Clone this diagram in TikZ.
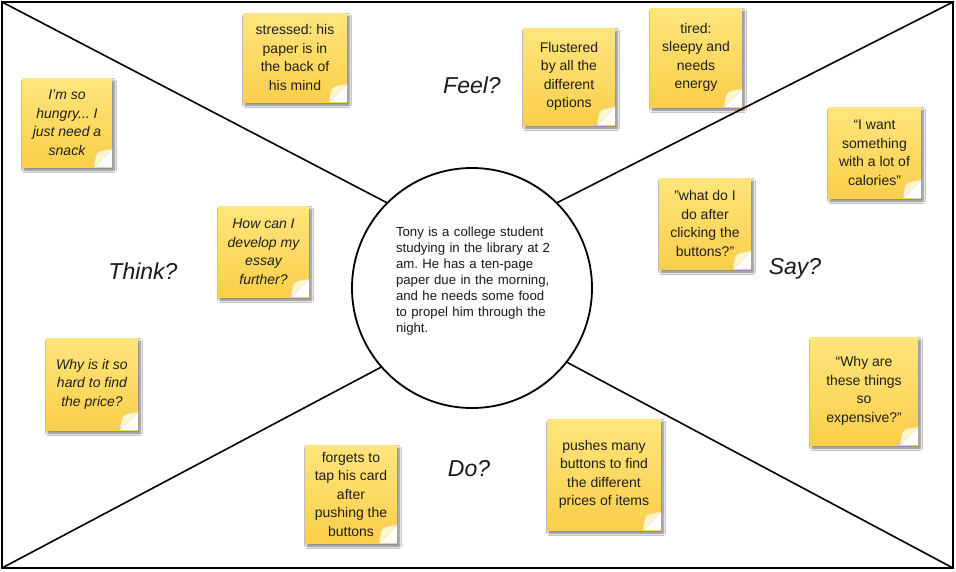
\documentclass[tikz,border=0pt]{standalone}
\usepackage{fontspec}
\setmainfont{Liberation Sans}
\usetikzlibrary{shadows,shadows.blur,calc}
\definecolor{notetop}{RGB}{255,229,125}
\definecolor{notebot}{RGB}{250,207,74}
\definecolor{curlc}{RGB}{255,245,200}
\frenchspacing
\begin{document}
\begin{tikzpicture}[x=1pt,y=-1pt,
  frame/.style={draw=black,line width=1.6pt},
  sticky/.style={rectangle,top color=notetop,bottom color=notebot,draw=none,
    blur shadow={shadow xshift=2pt,shadow yshift=-3pt,shadow blur radius=2.5pt,shadow blur steps=6,shadow opacity=55},
    align=center,font=\fontsize{14}{18.5}\selectfont,text=black!88,inner sep=0pt},
  ital/.style={font=\fontsize{14}{18.5}\selectfont\itshape},
  lab/.style={font=\fontsize{23}{26}\selectfont\itshape,text=black!90,inner sep=0pt},
  story/.style={circle,draw=black,line width=1.8pt,fill=white,minimum size=240pt,inner sep=0pt}]
\useasboundingbox (0,0) rectangle (956,571);
\fill[white] (0,0) rectangle (956,571);
% frame corners
\coordinate (tl) at (2,2);
\coordinate (tr) at (953,2);
\coordinate (bl) at (2,568);
\coordinate (br) at (953,568);
\draw[frame] (tl) rectangle (br);
% central persona circle
\node[story] (c) at (472,288) {};
\node[font=\fontsize{13.2}{16}\selectfont,text width=156pt,align=left,inner sep=0pt,text=black!90] (txt) at (474,281)
  {Tony is a college student\\studying in the library at 2\\am. He has a ten-page\\paper due in the morning,\\and he needs some food\\to propel him through the\\night.};
\draw[frame] (tl) -- (c.135);
\draw[frame] (tr) -- (c.45);
\draw[frame] (bl) -- (c.221);
\draw[frame] (br) -- (c.322);
% quadrant labels
\node[lab] (feel) at (472,85) {Feel?};
\node[lab] (think) at (143,271) {Think?};
\node[lab] (say) at (795,269) {Say?};
\node[lab] (do) at (469,469) {Do?};
% sticky notes
\node[sticky,ital,minimum width=90pt,minimum height=89pt] (n1) at (67,122.5) {I'm so\\hungry... I\\just need a\\snack};
\node[sticky,minimum width=104pt,minimum height=89pt] (n2) at (295,57.5) {stressed: his\\paper is in\\the back of\\his mind};
\node[sticky,minimum width=92pt,minimum height=97pt] (n3) at (569,76.5) {Flustered\\by all the\\different\\options};
\node[sticky,minimum width=92pt,minimum height=99pt] (n4) at (696,57.5) {tired:\\sleepy and\\needs\\energy};
\node[sticky,minimum width=93pt,minimum height=91pt] (n5) at (874.5,152.5) {“I want\\something\\with a lot of\\calories”};
\node[sticky,ital,minimum width=91pt,minimum height=91pt] (n6) at (263.5,251.5) {How can I\\develop my\\essay\\further?};
\node[sticky,minimum width=92pt,minimum height=91pt] (n7) at (705,223.5) {"what do I\\do after\\clicking the\\buttons?"};
\node[sticky,ital,minimum width=92pt,minimum height=92pt] (n8) at (92,384) {Why is it so\\hard to find\\the price?};
\node[sticky,minimum width=108pt,minimum height=108pt] (n9) at (864,391) {“Why are\\these things\\so\\expensive?”};
\node[sticky,minimum width=114pt,minimum height=111pt] (n10) at (604,474.5) {pushes many\\buttons to find\\the different\\prices of items};
\node[sticky,minimum width=92pt,minimum height=98pt] (n11) at (351,494) {forgets to\\tap his card\\after\\pushing the\\buttons};
% curled corners
\foreach \n in {n1,n2,n3,n4,n5,n6,n7,n8,n9,n10,n11}{
  \fill[white] ($(\n.south east)+(-18pt,0pt)$) -- (\n.south east) -- ($(\n.south east)+(0pt,18pt)$) -- cycle;
  \fill[curlc,draw=black!12,line width=0.4pt] ($(\n.south east)+(-18pt,0pt)$) -- ($(\n.south east)+(0pt,18pt)$)
    .. controls ($(\n.south east)+(-16pt,16pt)$) .. cycle;
}
\end{tikzpicture}
\end{document}
